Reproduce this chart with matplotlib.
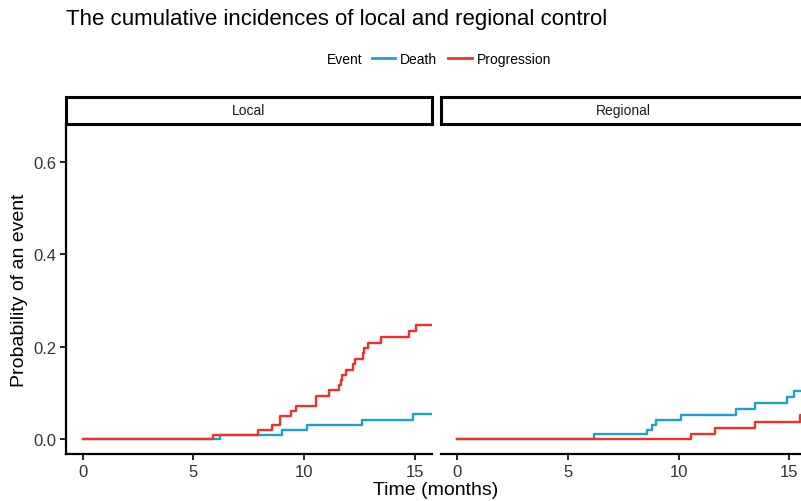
import matplotlib
matplotlib.use("Agg")
from matplotlib import pyplot as plt
from matplotlib.lines import Line2D

plt.rcParams["font.family"] = ["Liberation Sans", "DejaVu Sans"]

BLUE = "#1BA3C6"
RED = "#F0302A"
TICK_COL = "#333333"

# Local panel
local_death_t = [0, 6.19, 8.98, 10.14, 12.6, 14.93, 16.5]
local_death_p = [0, 0.0094, 0.0196, 0.0297, 0.0413, 0.055, 0.055]
local_prog_t = [0, 5.89, 7.94, 8.57, 8.90, 9.40, 9.64, 10.53, 11.11, 11.59, 11.65,
                11.70, 11.89, 12.19, 12.30, 12.67, 12.72, 12.88, 13.48, 14.73, 15.07, 16.5]
local_prog_p = [0, 0.0095, 0.0196, 0.0297, 0.0507, 0.0616, 0.0725, 0.094, 0.106, 0.116, 0.127,
                0.138, 0.150, 0.162, 0.174, 0.186, 0.197, 0.209, 0.220, 0.233, 0.248, 0.248]

# Regional panel
reg_death_t = [0, 6.17, 8.59, 8.80, 8.98, 10.12, 12.6, 13.45, 14.91, 15.21, 16.5]
reg_death_p = [0, 0.0101, 0.0203, 0.0304, 0.0406, 0.052, 0.064, 0.077, 0.0906, 0.105, 0.105]
reg_prog_t = [0, 10.55, 11.64, 13.45, 15.46, 16.5]
reg_prog_p = [0, 0.0101, 0.023, 0.036, 0.051, 0.051]

panels = ["Local", "Regional"]
x_ticks = [0, 5, 10, 15]
y_ticks = [0.0, 0.2, 0.4, 0.6]

W, H = 801, 502
fig = plt.figure(figsize=(W / 100, H / 100), dpi=100)

def fx(px):
    return px / W

def fy(py):
    return 1 - py / H

panel_left = [66, 440.5]
panel_w = 365.5
top, bottom = 125, 455
strip_top = 97.5

data = [
    ((local_death_t, local_death_p), (local_prog_t, local_prog_p)),
    ((reg_death_t, reg_death_p), (reg_prog_t, reg_prog_p)),
]

for i, name in enumerate(panels):
    ax = fig.add_axes([fx(panel_left[i]), fy(bottom), fx(panel_w), (bottom - top) / H])
    (dt, dp), (pt, pp) = data[i]
    ax.step(dt, dp, where="post", color=BLUE, lw=1.7)
    ax.step(pt, pp, where="post", color=RED, lw=1.7)
    ax.set_xlim(-0.75, 15.75)
    ax.set_ylim(-0.0325, 0.6825)
    for s in ["top", "right"]:
        ax.spines[s].set_visible(False)
    ax.spines["bottom"].set_linewidth(1.6)
    ax.spines["left"].set_linewidth(1.6)
    ax.set_xticks(x_ticks)
    ax.set_xticklabels([str(v) for v in x_ticks])
    ax.tick_params(axis="both", length=4, width=1.2, labelsize=12,
                   labelcolor=TICK_COL, pad=3)
    if i == 0:
        ax.set_yticks(y_ticks)
        ax.set_yticklabels(["%.1f" % v for v in y_ticks])
    else:
        ax.spines["left"].set_visible(False)
        ax.set_yticks([])

    # facet strip
    sx = fig.add_axes([fx(panel_left[i]), fy(top), fx(panel_w), (top - strip_top) / H])
    sx.set_xticks([])
    sx.set_yticks([])
    for s in sx.spines.values():
        s.set_linewidth(2.2)
    sx.text(0.5, 0.5, name, ha="center", va="center", fontsize=10, color="#1A1A1A",
            transform=sx.transAxes)

fig.text(fx(66), fy(20), "The cumulative incidences of local and regional control",
         fontsize=16, ha="left", va="center")

fig.text(fx(436), fy(491), "Time (months)", fontsize=14, ha="center", va="center")
fig.text(fx(20), fy(290), "Probability of an event", fontsize=14, ha="center",
         va="center", rotation=90)

fig.text(fx(327), fy(60), "Event", fontsize=10, ha="left", va="center")
handles = [Line2D([], [], color=BLUE, lw=2), Line2D([], [], color=RED, lw=2)]
fig.legend(handles, ["Death", "Progression"], loc="center left",
           bbox_to_anchor=(fx(369), fy(60)), ncol=2, frameon=False, fontsize=10,
           handlelength=1.7, handletextpad=0.35, columnspacing=0.8,
           borderaxespad=0, borderpad=0.2)

fig.savefig("out.png", dpi=100)
